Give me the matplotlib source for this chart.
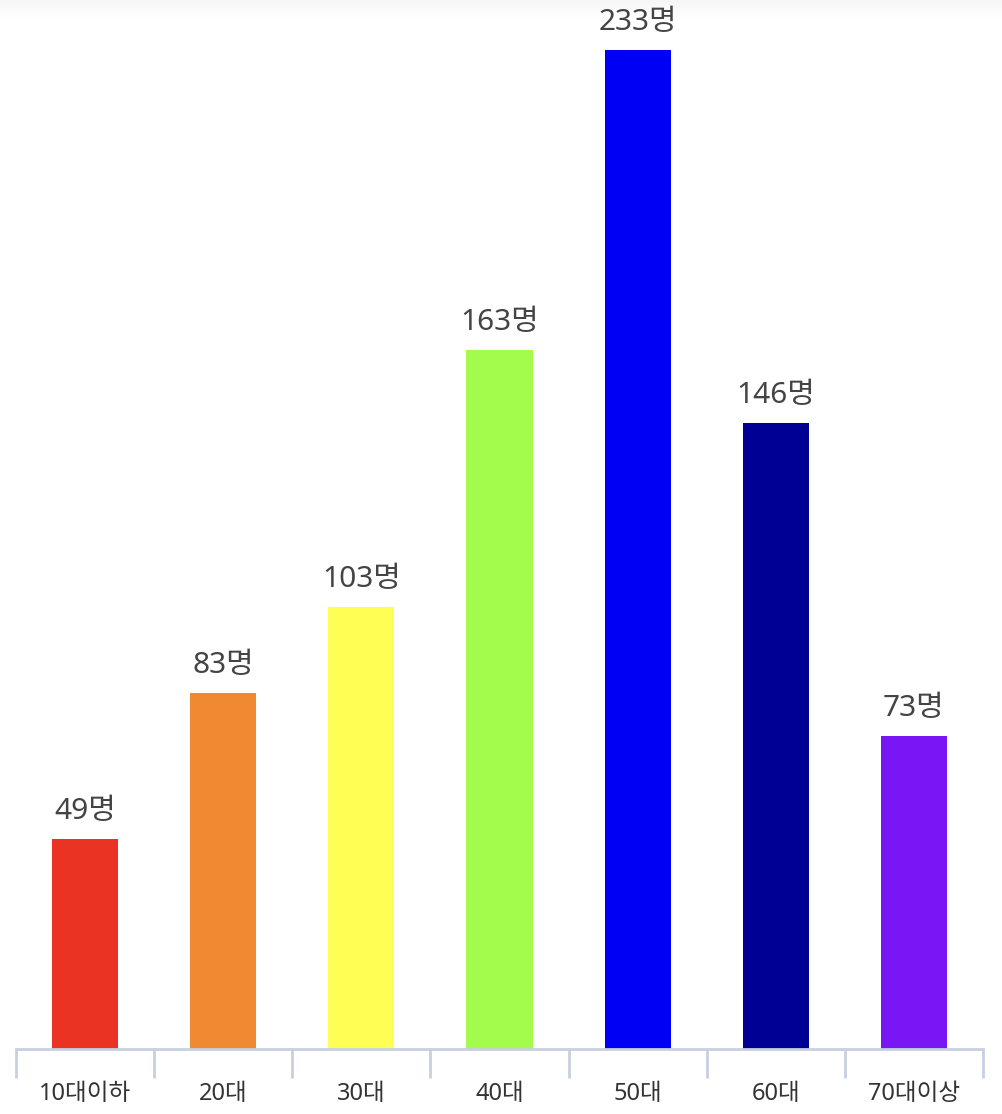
import matplotlib
matplotlib.use("Agg")
import matplotlib.pyplot as plt
import numpy as np

categories = ["10대이하", "20대", "30대", "40대", "50대", "60대", "70대이상"]
values = [49, 83, 103, 163, 233, 146, 73]
colors = ["#EA3323", "#EF8A33", "#FFFE54", "#A3FC4B", "#0000F5", "#000094", "#7817F3"]

plt.rcParams['font.family'] = ['Noto Sans', 'Noto Sans CJK KR', 'DejaVu Sans']

W, H = 1002, 1114
fig = plt.figure(figsize=(W / 100, H / 100), dpi=100)
px = 72 / 100  # points per pixel

# soft top shadow
gax = fig.add_axes([0, 1 - 18 / H, 1, 18 / H])
grad = np.linspace(0.965, 1.0, 50).reshape(-1, 1)
gax.imshow(np.dstack([grad, grad, grad]), aspect="auto", extent=[0, 1, 0, 1])
gax.axis("off")

left, right = 16, 983
bottom_px, top_px = 1049, 50
ax = fig.add_axes([left / W, (H - bottom_px) / H, (right - left) / W, (bottom_px - top_px) / H])
x = np.arange(len(categories))
ax.bar(x, values, width=0.478, color=colors, zorder=2)
ax.set_xlim(-0.5, len(categories) - 0.5)
ax.set_ylim(0, max(values))

for xi, v in zip(x, values):
    ax.annotate(f"{v}명", (xi, v), xytext=(0, 20 * px), textcoords="offset points",
                ha="center", va="baseline", fontsize=21.5, color="#444444", clip_on=False)

for xi, c in zip(x, categories):
    ax.annotate(c, (xi, 0), xycoords=("data", "axes fraction"), xytext=(0, -51 * px),
                textcoords="offset points", ha="center", va="baseline",
                fontsize=17, color="#333333", annotation_clip=False)

for s in ["top", "right", "left"]:
    ax.spines[s].set_visible(False)
ax.spines["bottom"].set_color("#C6D0DE")
ax.spines["bottom"].set_linewidth(2)
ax.set_yticks([])
ax.set_xticks(np.arange(-0.5, len(categories), 1.0))
ax.set_xticklabels([])
ax.tick_params(axis="x", length=21, width=2, color="#C6D0DE", direction="out")

fig.savefig("out.png", dpi=100)
